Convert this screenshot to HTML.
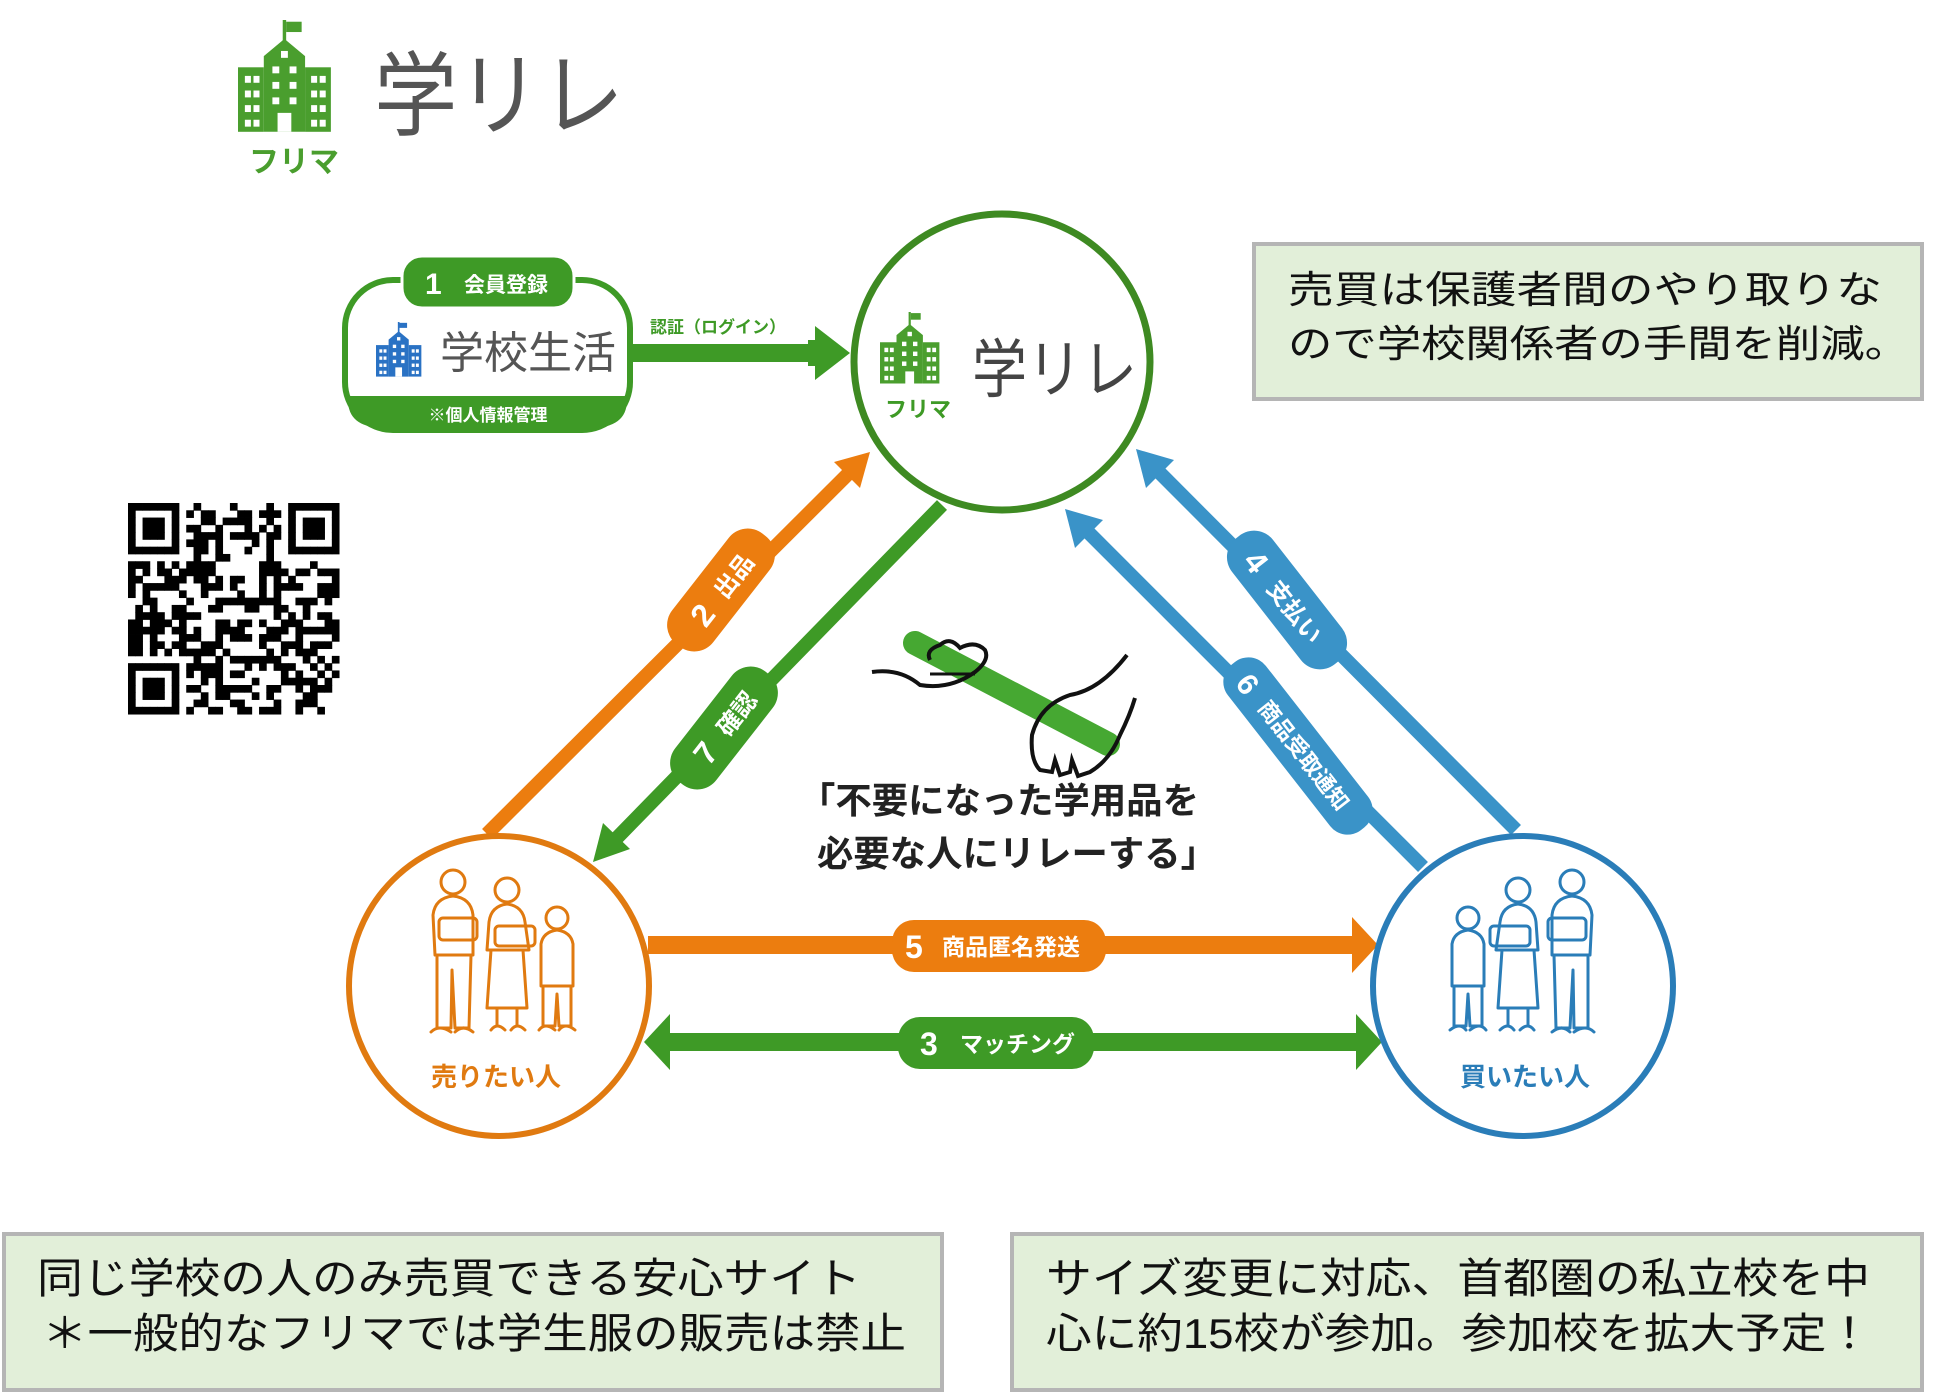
<!DOCTYPE html>
<html><head><meta charset="utf-8">
<style>
html,body{margin:0;padding:0;background:#fff;}
svg{display:block;}
text{font-family:"Liberation Sans","Noto Sans CJK JP",sans-serif;}
</style></head>
<body>
<svg id="s" width="1958" height="1395" viewBox="0 0 1958 1395" xmlns="http://www.w3.org/2000/svg">
<defs>
  <g id="school">
    <rect x="52" y="0" width="4" height="30"/>
    <rect x="56" y="2" width="18" height="12"/>
    <path d="M54 22 L78 42 L78 130 L30 130 L30 42 Z"/>
    <rect x="0" y="55" width="30" height="75"/>
    <rect x="78" y="55" width="30" height="75"/>
    <g fill="#fff">
      <rect x="8" y="65" width="7" height="8"/><rect x="18" y="65" width="7" height="8"/>
      <rect x="8" y="82" width="7" height="8"/><rect x="18" y="82" width="7" height="8"/>
      <rect x="8" y="99" width="7" height="8"/><rect x="18" y="99" width="7" height="8"/>
      <rect x="8" y="116" width="7" height="8"/><rect x="18" y="116" width="7" height="8"/>
      <rect x="85" y="65" width="7" height="8"/><rect x="95" y="65" width="7" height="8"/>
      <rect x="85" y="82" width="7" height="8"/><rect x="95" y="82" width="7" height="8"/>
      <rect x="85" y="99" width="7" height="8"/><rect x="95" y="99" width="7" height="8"/>
      <rect x="85" y="116" width="7" height="8"/><rect x="95" y="116" width="7" height="8"/>
      <rect x="50" y="36" width="8" height="8"/>
      <rect x="40" y="54" width="8" height="8"/><rect x="60" y="54" width="8" height="8"/>
      <rect x="40" y="72" width="8" height="8"/><rect x="60" y="72" width="8" height="8"/>
      <rect x="40" y="90" width="8" height="8"/><rect x="60" y="90" width="8" height="8"/>
      <rect x="46" y="108" width="16" height="22"/>
    </g>
  </g>
  <g id="people" fill="none" stroke-width="3" stroke-linejoin="round" stroke-linecap="round">
    <circle cx="28" cy="22" r="12"/>
    <path d="M8 55 Q10 38 28 36 Q46 38 48 55 L48 95 L10 95 Z"/>
    <path d="M12 95 L12 168 L26 168 L27 110 L30 168 L44 168 L46 95"/>
    <path d="M6 172 Q14 164 26 172 M30 172 Q38 164 48 172"/>
    <rect x="14" y="58" width="38" height="22" rx="4"/>
    <circle cx="82" cy="30" r="12"/>
    <path d="M64 62 Q66 46 82 44 Q98 46 100 62 L104 90 L62 90 Z"/>
    <path d="M66 90 L62 148 L102 148 L98 90"/>
    <path d="M72 148 L72 166 M92 148 L92 166 M66 170 Q72 162 80 170 M86 170 Q92 162 100 170"/>
    <rect x="70" y="66" width="40" height="20" rx="4"/>
    <circle cx="132" cy="58" r="11"/>
    <path d="M116 84 Q118 72 132 70 Q146 72 148 84 L148 126 L116 126 Z"/>
    <path d="M118 126 L118 166 L130 166 L132 134 L134 166 L146 166 L146 126"/>
    <path d="M114 170 Q120 162 130 170 M134 170 Q140 162 150 170"/>
  </g>
</defs>

<!-- top-left logo -->
<g transform="translate(238,20) scale(0.86)" fill="#4a9e2e"><use href="#school"/></g>
<text x="294" y="172" font-size="30" font-weight="bold" fill="#4a9e2e" text-anchor="middle">フリマ</text>
<text x="374" y="128" font-size="92" fill="#555" textLength="250" lengthAdjust="spacingAndGlyphs">学リレ</text>

<!-- 学校生活 box -->
<rect x="345" y="280" width="285" height="150" rx="48" fill="#fff" stroke="#3e9a26" stroke-width="6"/>
<path d="M348 396 L627 396 L627 400 Q627 428 590 428 L385 428 Q348 428 348 400 Z" fill="#3e9a26"/>
<text x="488" y="421" font-size="17" font-weight="bold" fill="#fff" text-anchor="middle">※個人情報管理</text>
<rect x="402" y="256" width="172" height="52" rx="20" fill="#3e9a26" stroke="#fff" stroke-width="3"/>
<text x="425" y="294" font-size="30" font-weight="bold" fill="#fff">1</text>
<text x="464" y="292" font-size="21" font-weight="bold" fill="#fff">会員登録</text>
<g transform="translate(376,322) scale(0.42)" fill="#2a72c4"><use href="#school"/></g>
<text x="440" y="368" font-size="44" fill="#555">学校生活</text>

<!-- login arrow -->
<text x="650" y="333" font-size="17" font-weight="bold" fill="#3e9a26">認証（ログイン）</text>
<rect x="630" y="344" width="190" height="18" fill="#3e9a26"/>
<path d="M815 326 L850 353 L815 380 L815 366 L808 366 L808 340 L815 340 Z" fill="#3e9a26"/>

<!-- center circle -->
<circle cx="1002" cy="362" r="148" fill="#fff" stroke="#3e8a22" stroke-width="7"/>
<g transform="translate(880,312) scale(0.55)" fill="#4a9e2e"><use href="#school"/></g>
<text x="885" y="417" font-size="22" font-weight="bold" fill="#3e9a26">フリマ</text>
<text x="972" y="392" font-size="64" fill="#444" textLength="165" lengthAdjust="spacingAndGlyphs">学リレ</text>

<!-- orange 2 -->
<line x1="487" y1="834" x2="855" y2="467" stroke="#ec7d0f" stroke-width="14"/>
<path d="M870 452 L834 462 L860 488 Z" fill="#ec7d0f"/>
<g transform="translate(721,590) rotate(-52)">
  <rect x="-70" y="-26" width="140" height="52" rx="24" fill="#ec7d0f"/>
  <text x="-40" y="12" font-size="32" font-weight="bold" fill="#fff">2</text>
  <text x="-5" y="10" font-size="24" font-weight="bold" fill="#fff">出品</text>
</g>
<!-- green 7 -->
<line x1="942" y1="505" x2="610" y2="845" stroke="#3e9a26" stroke-width="14"/>
<path d="M593 862 L603 823 L630 849 Z" fill="#3e9a26"/>
<g transform="translate(724,728) rotate(-52)">
  <rect x="-70" y="-26" width="140" height="52" rx="24" fill="#3e9a26"/>
  <text x="-40" y="12" font-size="32" font-weight="bold" fill="#fff">7</text>
  <text x="-5" y="10" font-size="24" font-weight="bold" fill="#fff">確認</text>
</g>
<!-- blue 4 -->
<line x1="1516" y1="830" x2="1152" y2="465" stroke="#3a93c8" stroke-width="14"/>
<path d="M1136 449 L1146 488 L1174 460 Z" fill="#3a93c8"/>
<g transform="translate(1287,600) rotate(52)">
  <rect x="-80" y="-26" width="160" height="52" rx="24" fill="#3a93c8"/>
  <text x="-58" y="12" font-size="32" font-weight="bold" fill="#fff">4</text>
  <text x="-22" y="10" font-size="24" font-weight="bold" fill="#fff">支払い</text>
</g>
<!-- blue 6 -->
<line x1="1423" y1="867" x2="1080" y2="524" stroke="#3a93c8" stroke-width="14"/>
<path d="M1065 509 L1075 548 L1103 520 Z" fill="#3a93c8"/>
<g transform="translate(1298,746) rotate(52)">
  <rect x="-105" y="-24" width="210" height="48" rx="22" fill="#3a93c8"/>
  <text x="-88" y="12" font-size="30" font-weight="bold" fill="#fff">6</text>
  <text x="-55" y="9" font-size="22" font-weight="bold" fill="#fff">商品受取通知</text>
</g>

<!-- baton illustration -->
<line x1="915" y1="643" x2="1108" y2="744" stroke="#46a832" stroke-width="24" stroke-linecap="round"/>
<path d="M872 672 Q900 668 920 685 Q950 690 975 672 Q990 660 985 650 Q975 640 960 648 Q950 636 940 645 Q925 650 930 660" fill="none" stroke="#111" stroke-width="4"/>
<path d="M930 674 L975 674" stroke="#111" stroke-width="3"/>
<path d="M1127 655 Q1100 690 1070 695 Q1040 705 1032 735 Q1030 760 1040 770 L1052 772 L1055 760 L1060 775 L1070 772 L1072 760 L1078 776 L1090 772 Q1110 760 1120 735 Q1130 715 1135 698" fill="none" stroke="#111" stroke-width="4"/>

<!-- center phrase -->
<text x="799" y="813" font-size="36" font-weight="bold" fill="#222" textLength="400" lengthAdjust="spacingAndGlyphs">「不要になった学用品を</text>
<text x="817" y="866" font-size="36" font-weight="bold" fill="#222" textLength="400" lengthAdjust="spacingAndGlyphs">必要な人にリレーする」</text>

<!-- horizontal arrows -->
<rect x="648" y="936" width="710" height="18" fill="#ec7d0f"/>
<path d="M1352 917 L1378 945 L1352 973 Z" fill="#ec7d0f"/>
<rect x="892" y="920" width="214" height="52" rx="22" fill="#ec7d0f"/>
<text x="905" y="958" font-size="32" font-weight="bold" fill="#fff">5</text>
<text x="942" y="955" font-size="23" font-weight="bold" fill="#fff">商品匿名発送</text>

<rect x="665" y="1033" width="695" height="18" fill="#3e9a26"/>
<path d="M1356 1014 L1382 1042 L1356 1070 Z" fill="#3e9a26"/>
<path d="M670 1014 L644 1042 L670 1070 Z" fill="#3e9a26"/>
<rect x="898" y="1017" width="196" height="52" rx="22" fill="#3e9a26"/>
<text x="920" y="1055" font-size="32" font-weight="bold" fill="#fff">3</text>
<text x="960" y="1052" font-size="23" font-weight="bold" fill="#fff">マッチング</text>

<!-- seller circle -->
<circle cx="499" cy="986" r="150" fill="none" stroke="#e07a10" stroke-width="6"/>
<g transform="translate(425,860)" stroke="#e07a10"><use href="#people"/></g>
<text x="496" y="1086" font-size="26" font-weight="bold" fill="#e07a10" text-anchor="middle">売りたい人</text>

<!-- buyer circle -->
<circle cx="1523" cy="986" r="150" fill="none" stroke="#2a7db8" stroke-width="6"/>
<g transform="translate(1600,860) scale(-1,1)" stroke="#2a7db8"><use href="#people"/></g>
<text x="1525" y="1086" font-size="26" font-weight="bold" fill="#2a7db8" text-anchor="middle">買いたい人</text>

<!-- QR -->
<g id="qr" transform="translate(128,503)"></g>

<!-- note boxes -->
<rect x="1254" y="244" width="668" height="155" fill="#e2efd9" stroke="#b5b5b5" stroke-width="4"/>
<text x="1288" y="303" font-size="38" fill="#111" textLength="594" lengthAdjust="spacingAndGlyphs">売買は保護者間のやり取りな</text>
<text x="1288" y="357" font-size="38" fill="#111" textLength="621" lengthAdjust="spacingAndGlyphs">ので学校関係者の手間を削減。</text>

<rect x="4" y="1234" width="938" height="156" fill="#e2efd9" stroke="#b5b5b5" stroke-width="4"/>
<text x="37" y="1293" font-size="42" fill="#111" textLength="824" lengthAdjust="spacingAndGlyphs">同じ学校の人のみ売買できる安心サイト</text>
<text x="42" y="1348" font-size="42" fill="#111" textLength="864" lengthAdjust="spacingAndGlyphs">＊一般的なフリマでは学生服の販売は禁止</text>

<rect x="1012" y="1234" width="910" height="156" fill="#e2efd9" stroke="#b5b5b5" stroke-width="4"/>
<text x="1046" y="1293" font-size="42" fill="#111" textLength="824" lengthAdjust="spacingAndGlyphs">サイズ変更に対応、首都圏の私立校を中</text>
<text x="1046" y="1348" font-size="42" fill="#111" textLength="826" lengthAdjust="spacingAndGlyphs">心に約15校が参加。参加校を拡大予定！</text>
</svg>
<script>
(function(){
  var g=document.getElementById('qr'),N=29,m=7.28,ns='http://www.w3.org/2000/svg',seed=12345;
  function r(){seed=(seed*1103515245+12345)&0x7fffffff;return seed/0x7fffffff;}
  function finder(x,y){return function(i,j){var a=i-x,b=j-y;if(a<0||b<0||a>6||b>6)return null;
    if(a==0||b==0||a==6||b==6)return 1;if(a==1||b==1||a==5||b==5)return 0;return 1;}}
  var fs=[finder(0,0),finder(N-7,0),finder(0,N-7)];
  for(var j=0;j<N;j++)for(var i=0;i<N;i++){
    var v=null;for(var k=0;k<3;k++){var t=fs[k](i,j);if(t!==null)v=t;}
    if(v===null){ if((i<8&&j<8)||(i>N-9&&j<8)||(i<8&&j>N-9))v=0; else v=r()<0.5?1:0; }
    if(v){var e=document.createElementNS(ns,'rect');e.setAttribute('x',i*m);e.setAttribute('y',j*m);
      e.setAttribute('width',m+0.4);e.setAttribute('height',m+0.4);e.setAttribute('fill','#000');g.appendChild(e);}
  }
})();
</script>
</body></html>
